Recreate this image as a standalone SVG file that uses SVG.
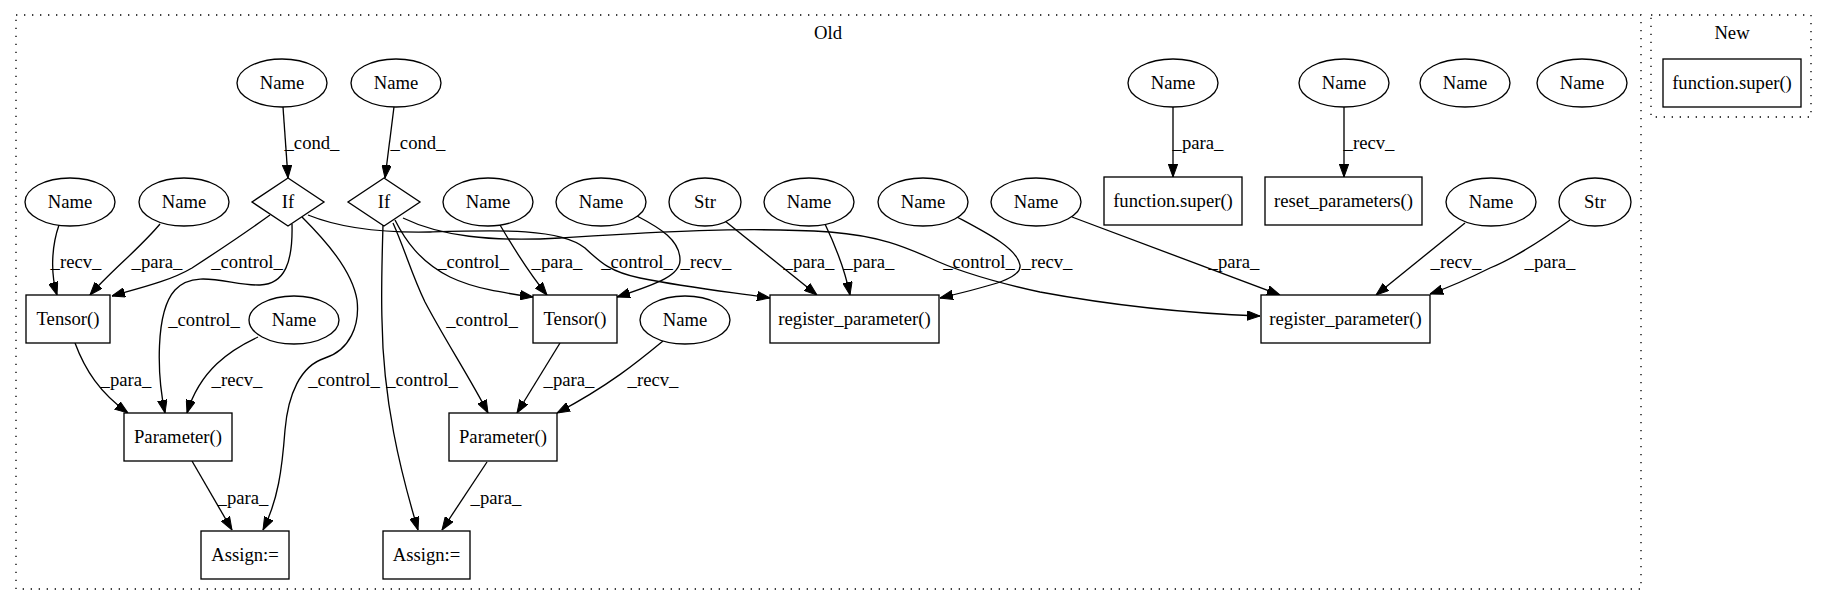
<svg xmlns="http://www.w3.org/2000/svg" width="1828" height="606" viewBox="0 0 1828 606">
<style>
text{font-family:"Liberation Serif","Times New Roman",serif;font-size:18.67px;fill:#000;text-anchor:middle}
.n{fill:#fff;stroke:#000;stroke-width:1.33}
.c{fill:none;stroke:#000;stroke-width:1.33;stroke-dasharray:1.33,6.67}
.e{fill:none;stroke:#000;stroke-width:1.33;marker-end:url(#ah)}
</style>
<defs>
<marker id="ah" viewBox="0 0 13 10" refX="13" refY="5" markerWidth="13" markerHeight="10" markerUnits="userSpaceOnUse" orient="auto">
<path d="M0,0.3 L13,5 L0,9.7 z" fill="#000" stroke="#000" stroke-width="1"/>
</marker>
</defs>
<rect width="1828" height="606" fill="#fff"/>
<g id="cluster_old"><rect class="c" x="16" y="15" width="1625" height="574"/><text x="828" y="39">Old</text></g>
<g id="cluster_new"><rect class="c" x="1651" y="15" width="160" height="102"/><text x="1732" y="39">New</text></g>

<g id="connectors">
<path class="e" d="M283,107 L288,178"/><text x="312" y="149">_cond_</text>
<path class="e" d="M394,107 L385,178"/><text x="418" y="149">_cond_</text>
<path class="e" d="M59,225 C52,245 50,272 57,295"/><text x="76" y="268">_recv_</text>
<path class="e" d="M160,224 C140,248 110,272 90,295"/><text x="157" y="268">_para_</text>
<path class="e" d="M270,215 C245,233 215,253 192,268 C170,281 140,288 112,296"/><text x="247" y="268">_control_</text>
<path class="e" d="M292,224 C293,262 285,284 260,285 C232,286 195,268 175,290 C155,312 157,375 165,413"/><text x="204" y="326">_control_</text>
<path class="e" d="M302,217 C325,240 352,270 357,300 C360,325 350,350 325,358 C300,366 288,395 285,430 C282,470 278,500 263,530"/><text x="344" y="386">_control_</text>
<path class="e" d="M308,215 C340,228 380,233 430,232 C500,230 560,228 585,248 C600,262 610,272 640,278 C690,288 730,292 770,298"/><text x="637" y="268">_control_</text>
<path class="e" d="M403,218 C440,236 490,242 560,238 C640,233 740,226 830,232 C880,236 905,247 930,258 C955,270 985,280 1040,292 C1110,305 1180,313 1260,316"/><text x="979" y="268">_control_</text>
<path class="e" d="M395,220 C405,240 420,262 450,277 C475,289 505,293 533,297"/><text x="473" y="268">_control_</text>
<path class="e" d="M393,223 C405,250 412,275 425,302 C445,340 470,378 488,413"/><text x="482" y="326">_control_</text>
<path class="e" d="M383,225 C382,260 381,290 382,320 C383,400 400,470 418,530"/><text x="422" y="386">_control_</text>
<path class="e" d="M500,225 C512,245 525,268 547,295"/><text x="557" y="268">_para_</text>
<path class="e" d="M637,216 C660,228 680,240 680,260 C680,275 660,283 617,297"/><text x="706" y="268">_recv_</text>
<path class="e" d="M725,221 L817,295"/><text x="809" y="268">_para_</text>
<path class="e" d="M825,224 C835,245 845,270 850,295"/><text x="869" y="268">_para_</text>
<path class="e" d="M957,217 C985,232 1017,248 1020,265 C1022,278 995,285 940,298"/><text x="1047" y="268">_recv_</text>
<path class="e" d="M1072,217 L1280,295"/><text x="1234" y="268">_para_</text>
<path class="e" d="M1465,223 L1376,295"/><text x="1456" y="268">_recv_</text>
<path class="e" d="M1570,220 C1545,238 1515,258 1490,268 C1470,278 1450,287 1430,294"/><text x="1550" y="268">_para_</text>
<path class="e" d="M1173,107 L1173,177"/><text x="1198" y="149">_para_</text>
<path class="e" d="M1344,107 L1344,177"/><text x="1369" y="149">_recv_</text>
<path class="e" d="M75,343 C85,370 100,393 128,413"/><text x="126" y="386">_para_</text>
<path class="e" d="M258,337 C230,350 200,370 187,413"/><text x="237" y="386">_recv_</text>
<path class="e" d="M192,461 L232,530"/><text x="243" y="504">_para_</text>
<path class="e" d="M560,343 L517,413"/><text x="569" y="386">_para_</text>
<path class="e" d="M663,341 C640,360 610,385 557,413"/><text x="653" y="386">_recv_</text>
<path class="e" d="M487,462 L442,530"/><text x="496" y="504">_para_</text>
</g>

<g id="nameA"><ellipse class="n" cx="282" cy="83" rx="45" ry="24"/><text x="282" y="89">Name</text></g>
<g id="nameB"><ellipse class="n" cx="396" cy="83" rx="45" ry="24"/><text x="396" y="89">Name</text></g>
<g id="nameJ"><ellipse class="n" cx="1173" cy="83" rx="45" ry="24"/><text x="1173" y="89">Name</text></g>
<g id="nameK"><ellipse class="n" cx="1344" cy="83" rx="45" ry="24"/><text x="1344" y="89">Name</text></g>
<g id="nameM"><ellipse class="n" cx="1465" cy="83" rx="45" ry="24"/><text x="1465" y="89">Name</text></g>
<g id="nameN"><ellipse class="n" cx="1582" cy="83" rx="45" ry="24"/><text x="1582" y="89">Name</text></g>

<g id="nameC"><ellipse class="n" cx="70" cy="202" rx="45" ry="24"/><text x="70" y="208">Name</text></g>
<g id="nameD"><ellipse class="n" cx="184" cy="202" rx="45" ry="24"/><text x="184" y="208">Name</text></g>
<g id="if1"><polygon class="n" points="288,178 324,202 288,226 252,202"/><text x="288" y="208">If</text></g>
<g id="if2"><polygon class="n" points="384,178 420,202 384,226 348,202"/><text x="384" y="208">If</text></g>
<g id="nameE"><ellipse class="n" cx="488" cy="202" rx="45" ry="24"/><text x="488" y="208">Name</text></g>
<g id="nameF"><ellipse class="n" cx="601" cy="202" rx="45" ry="24"/><text x="601" y="208">Name</text></g>
<g id="strG"><ellipse class="n" cx="705" cy="202" rx="36" ry="24"/><text x="705" y="208">Str</text></g>
<g id="nameH"><ellipse class="n" cx="809" cy="202" rx="45" ry="24"/><text x="809" y="208">Name</text></g>
<g id="nameI"><ellipse class="n" cx="923" cy="202" rx="45" ry="24"/><text x="923" y="208">Name</text></g>
<g id="nameL"><ellipse class="n" cx="1036" cy="202" rx="45" ry="24"/><text x="1036" y="208">Name</text></g>
<g id="superOld"><rect class="n" x="1104" y="177" width="138" height="48"/><text x="1173" y="207">function.super()</text></g>
<g id="resetParams"><rect class="n" x="1265" y="177" width="157" height="48"/><text x="1343.5" y="207">reset_parameters()</text></g>
<g id="nameO"><ellipse class="n" cx="1491" cy="202" rx="45" ry="24"/><text x="1491" y="208">Name</text></g>
<g id="strP"><ellipse class="n" cx="1595" cy="202" rx="36" ry="24"/><text x="1595" y="208">Str</text></g>

<g id="tensor1"><rect class="n" x="26" y="295" width="84" height="48"/><text x="68" y="325">Tensor()</text></g>
<g id="tensor2"><rect class="n" x="533" y="295" width="84" height="48"/><text x="575" y="325">Tensor()</text></g>
<g id="reg1"><rect class="n" x="770" y="295" width="169" height="48"/><text x="854.5" y="325">register_parameter()</text></g>
<g id="reg2"><rect class="n" x="1261" y="295" width="169" height="48"/><text x="1345.5" y="325">register_parameter()</text></g>
<g id="nameQ"><ellipse class="n" cx="294" cy="320" rx="45" ry="24"/><text x="294" y="326">Name</text></g>
<g id="nameR"><ellipse class="n" cx="685" cy="320" rx="45" ry="24"/><text x="685" y="326">Name</text></g>

<g id="param1"><rect class="n" x="124" y="413" width="108" height="48"/><text x="178" y="443">Parameter()</text></g>
<g id="param2"><rect class="n" x="449" y="413" width="108" height="48"/><text x="503" y="443">Parameter()</text></g>
<g id="assign1"><rect class="n" x="201" y="531" width="88" height="48"/><text x="245" y="561">Assign:=</text></g>
<g id="assign2"><rect class="n" x="383" y="531" width="87" height="48"/><text x="426.5" y="561">Assign:=</text></g>

<g id="superNew"><rect class="n" x="1663" y="59" width="138" height="48"/><text x="1732" y="89">function.super()</text></g>
</svg>
